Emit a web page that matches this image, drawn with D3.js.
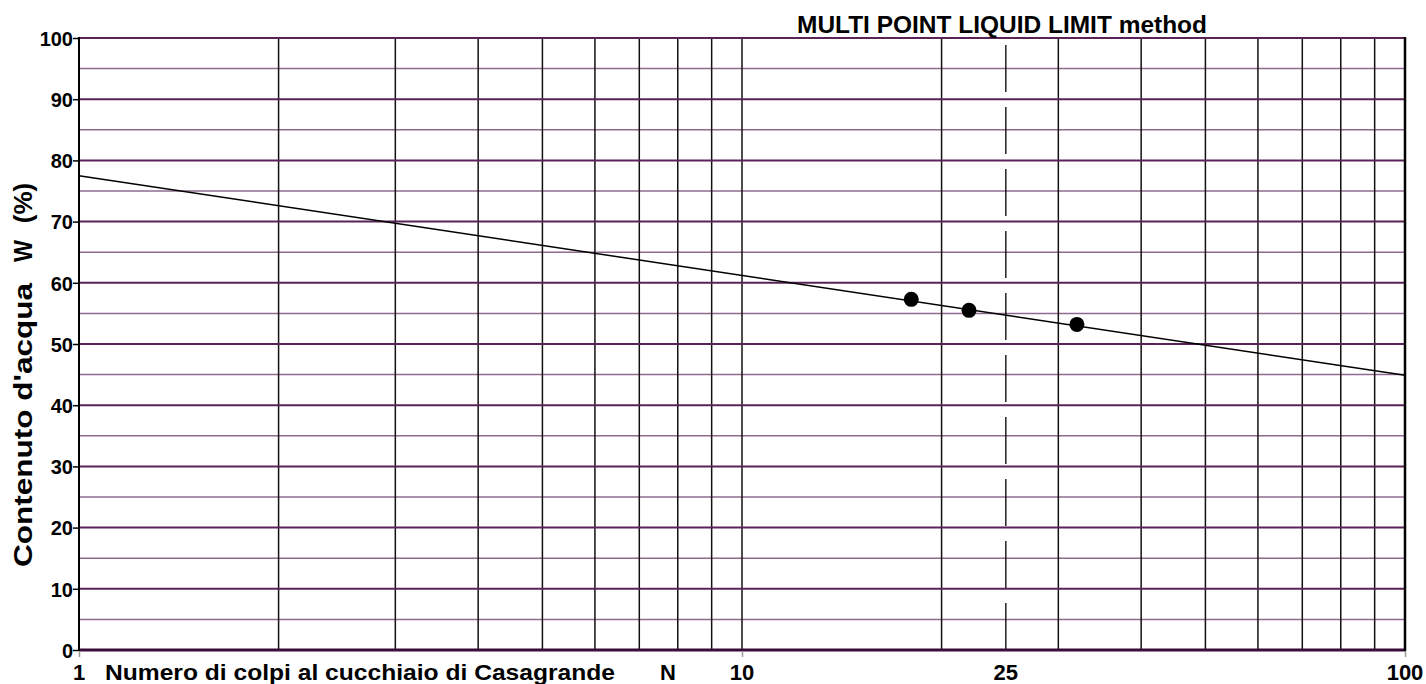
<!DOCTYPE html>
<html>
<head>
<meta charset="utf-8">
<script src="https://cdn.jsdelivr.net/npm/d3@7/dist/d3.min.js"></script>
<style>
  html, body { margin: 0; padding: 0; background: #ffffff; }
  svg { display: block; }
  text { font-family: "Liberation Sans", Arial, sans-serif; font-weight: bold; fill: #000; }
</style>
</head>
<body>
<svg id="chart" width="1426" height="684"></svg>
<script>
// ---- data ----
const blowsN = [18, 22, 32];
const waterW = [57.3, 55.5, 53.2];
const fitN = [1, 100];
const fitW = [77.5, 44.9];
const liquidLimitN = 25;
const yTickValues = [0, 10, 20, 30, 40, 50, 60, 70, 80, 90, 100];
const yMinorValues = [5, 15, 25, 35, 45, 55, 65, 75, 85, 95];
const xGridValues = [2, 3, 4, 5, 6, 7, 8, 9, 10, 20, 30, 40, 50, 60, 70, 80, 90];
const xTickLabels = [1, 10, 25, 100];
const titleText = "MULTI POINT LIQUID LIMIT method";
const xTitleText = "Numero di colpi al cucchiaio di Casagrande";
const yTitleText = "Contenuto d'acqua";

// ---- layout ----
const L = 79, R = 1405, T = 38, B = 650;
const svg = d3.select("#chart");
const x = d3.scaleLog().domain([1, 100]).range([L, R]);
const y = d3.scaleLinear().domain([0, 100]).range([B, T]);

// horizontal minor grid
svg.append("g").selectAll("line").data(yMinorValues).join("line")
  .attr("x1", L).attr("x2", R)
  .attr("y1", d => y(d)).attr("y2", d => y(d))
  .attr("stroke", "#8e6b8e").attr("stroke-width", 1.5);

// vertical grid
svg.append("g").selectAll("line").data(xGridValues).join("line")
  .attr("x1", d => x(d)).attr("x2", d => x(d))
  .attr("y1", T).attr("y2", B)
  .attr("stroke", "#111").attr("stroke-width", 1.5);

// horizontal major grid
svg.append("g").selectAll("line").data(yTickValues.filter(v => v > 0)).join("line")
  .attr("x1", L).attr("x2", R)
  .attr("y1", d => y(d)).attr("y2", d => y(d))
  .attr("stroke", "#5a2358").attr("stroke-width", 2);

// liquid limit dashed line at N=25 (dash from bottom)
svg.append("line")
  .attr("x1", x(liquidLimitN)).attr("x2", x(liquidLimitN))
  .attr("y1", B).attr("y2", T)
  .attr("stroke", "#000").attr("stroke-width", 1.3)
  .attr("stroke-dasharray", "47,15");

// axes frame
svg.append("line").attr("x1", L).attr("x2", R).attr("y1", y(0)).attr("y2", y(0))
  .attr("stroke", "#3a0c3a").attr("stroke-width", 3);
svg.append("line").attr("x1", L).attr("x2", L).attr("y1", T - 1).attr("y2", B + 1)
  .attr("stroke", "#000").attr("stroke-width", 2);
svg.append("line").attr("x1", R).attr("x2", R).attr("y1", T - 1).attr("y2", B + 1)
  .attr("stroke", "#000").attr("stroke-width", 2.5);

// y ticks
const yAxis = d3.axisLeft(y).tickValues(yTickValues).tickSize(6).tickPadding(0).tickFormat(d3.format("d"));
const gy = svg.append("g").attr("transform", `translate(${L},0)`).call(yAxis);
gy.select(".domain").remove();
gy.selectAll(".tick line").attr("stroke", "#000").attr("stroke-width", 1.5);
gy.selectAll(".tick text").attr("font-size", 20).attr("font-family", "Liberation Sans, Arial, sans-serif")
  .attr("font-weight", "bold").attr("fill", "#000").attr("dy", "0.36em");

// x ticks (gray marks at 1,10,100)
const xAxis = d3.axisBottom(x).tickValues([1, 10, 100]).tickSize(6).tickFormat("");
const gx = svg.append("g").attr("transform", `translate(0,${B + 1})`).call(xAxis);
gx.select(".domain").remove();
gx.selectAll(".tick line").attr("stroke", "#999").attr("stroke-width", 1.5);

// x tick labels
svg.append("g").selectAll("text").data(xTickLabels).join("text")
  .attr("x", d => x(d)).attr("y", 680)
  .attr("text-anchor", "middle").attr("font-size", 22)
  .text(d => d);

// x title
svg.append("text").attr("x", 105).attr("y", 680).attr("font-size", 22)
  .attr("textLength", 510).attr("lengthAdjust", "spacingAndGlyphs")
  .text(xTitleText);
svg.append("text").attr("x", 660).attr("y", 680).attr("font-size", 22).text("N");

// title
svg.append("text").attr("x", 797).attr("y", 33).attr("font-size", 23)
  .attr("textLength", 410).attr("lengthAdjust", "spacingAndGlyphs")
  .text(titleText);

// y title
svg.append("text").attr("transform", "translate(32,425) rotate(-90)")
  .attr("text-anchor", "middle").attr("font-size", 26)
  .attr("textLength", 284).attr("lengthAdjust", "spacingAndGlyphs")
  .text(yTitleText);
svg.append("text").attr("transform", "translate(32,251) rotate(-90)")
  .attr("text-anchor", "middle").attr("font-size", 26)
  .attr("textLength", 22).attr("lengthAdjust", "spacingAndGlyphs")
  .text("W");
svg.append("text").attr("transform", "translate(32,203) rotate(-90)")
  .attr("text-anchor", "middle").attr("font-size", 26)
  .text("(%)");

// fit line
const fitData = fitN.map((n, i) => ({ n, w: fitW[i] }));
svg.append("path").datum(fitData)
  .attr("d", d3.line().x(d => x(d.n)).y(d => y(d.w)))
  .attr("fill", "none").attr("stroke", "#000").attr("stroke-width", 1.5);

// points
const pts = blowsN.map((n, i) => ({ n, w: waterW[i] }));
svg.append("g").selectAll("circle").data(pts).join("circle")
  .attr("cx", d => x(d.n)).attr("cy", d => y(d.w)).attr("r", 7.5)
  .attr("fill", "#000");
</script>
</body>
</html>
